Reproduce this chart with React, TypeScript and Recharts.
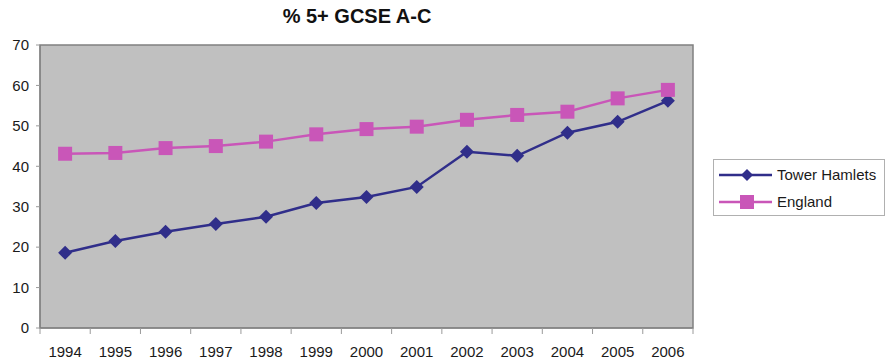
import React from 'react';
import {
  Line,
  LineChart,
  ReferenceArea,
  XAxis,
  YAxis,
} from 'recharts';

const years = ['1994', '1995', '1996', '1997', '1998', '1999', '2000', '2001', '2002', '2003', '2004', '2005', '2006'];
const towerHamlets = [18.6, 21.5, 23.8, 25.7, 27.5, 30.9, 32.4, 34.9, 43.6, 42.6, 48.3, 51.0, 56.2];
const england = [43.1, 43.3, 44.5, 45.0, 46.1, 47.9, 49.2, 49.8, 51.5, 52.7, 53.5, 56.8, 58.9];
const yTicks = [0, 10, 20, 30, 40, 50, 60, 70];

const W = 885;
const H = 363;
const LEFT = 40;
const RIGHT = 192;
const BAND = (W - LEFT - RIGHT) / years.length;
const NAVY = '#302E8A';
const PINK = '#C956B8';
const FONT = '"Liberation Sans", Arial, sans-serif';

const data = years.map((year, i) => ({
  year,
  th: towerHamlets[i],
  eng: england[i],
}));

const Diamond = ({ cx, cy }: any) => (
  <polygon
    points={`${cx},${cy - 7} ${cx + 7},${cy} ${cx},${cy + 7} ${cx - 7},${cy}`}
    fill={NAVY}
  />
);

const Square = ({ cx, cy }: any) => (
  <rect x={cx - 7} y={cy - 7} width={14} height={14} fill={PINK} />
);

const YearTick = ({ x, y, payload, index }: any) => (
  <g>
    <line x1={x - BAND / 2} x2={x - BAND / 2} y1={y} y2={y + 6} stroke="#9a9a9a" />
    {index === years.length - 1 && (
      <line x1={x + BAND / 2} x2={x + BAND / 2} y1={y} y2={y + 6} stroke="#9a9a9a" />
    )}
    <text x={x} y={y + 29} textAnchor="middle" fontSize={15} fill="#1a1a1a" fontFamily={FONT}>
      {payload.value}
    </text>
  </g>
);

const LegendBox = () => (
  <div
    style={{
      position: 'absolute',
      left: 713,
      top: 159,
      border: '1px solid #b0b0b0',
      background: '#fff',
      width: 172,
      height: 57,
      boxSizing: 'border-box',
      fontFamily: FONT,
      fontSize: 15,
      color: '#1a1a1a',
      paddingTop: 1,
    }}
  >
    {[
      { name: 'Tower Hamlets', color: NAVY, shape: 'diamond' },
      { name: 'England', color: PINK, shape: 'square' },
    ].map((item) => (
      <div key={item.name} style={{ display: 'flex', alignItems: 'center', height: 27 }}>
        <svg width={58} height={16} style={{ marginLeft: 5 }}>
          <line x1={0} x2={53} y1={8} y2={8} stroke={item.color} strokeWidth={2.5} />
          {item.shape === 'diamond' ? (
            <polygon points="28,2 34,8 28,14 22,8" fill={item.color} />
          ) : (
            <rect x={21} y={1} width={14} height={14} fill={item.color} />
          )}
        </svg>
        <span>{item.name}</span>
      </div>
    ))}
  </div>
);

export default function App() {
  return (
    <div style={{ position: 'absolute', left: 0, top: 0, width: W, height: H, background: '#fff' }}>
      <LineChart
        width={W}
        height={H}
        data={data}
        margin={{ top: 45, right: RIGHT, left: 0, bottom: 5 }}
      >
        <text x={357} y={23} textAnchor="middle" fontSize={20} fontWeight="bold" fill="#111" fontFamily={FONT}>
          % 5+ GCSE A-C
        </text>
        <ReferenceArea y1={0} y2={70} fill="#C0C0C0" fillOpacity={1} stroke="#808080" strokeWidth={1.5} />
        <XAxis
          dataKey="year"
          scale="band"
          height={30}
          tickSize={0}
          tickMargin={0}
          axisLine={{ stroke: '#808080' }}
          tick={<YearTick />}
          interval={0}
        />
        <YAxis
          width={LEFT}
          domain={[0, 70]}
          ticks={yTicks}
          tickSize={4}
          tickMargin={7}
          axisLine={{ stroke: '#808080' }}
          tickLine={{ stroke: '#9a9a9a' }}
          tick={{ fontSize: 15, fill: '#1a1a1a', fontFamily: FONT }}
        />
        <Line
          dataKey="th"
          name="Tower Hamlets"
          stroke={NAVY}
          strokeWidth={2.5}
          dot={<Diamond />}
          activeDot={false}
          isAnimationActive={false}
        />
        <Line
          dataKey="eng"
          name="England"
          stroke={PINK}
          strokeWidth={2.5}
          dot={<Square />}
          activeDot={false}
          isAnimationActive={false}
        />
      </LineChart>
      <LegendBox />
    </div>
  );
}
